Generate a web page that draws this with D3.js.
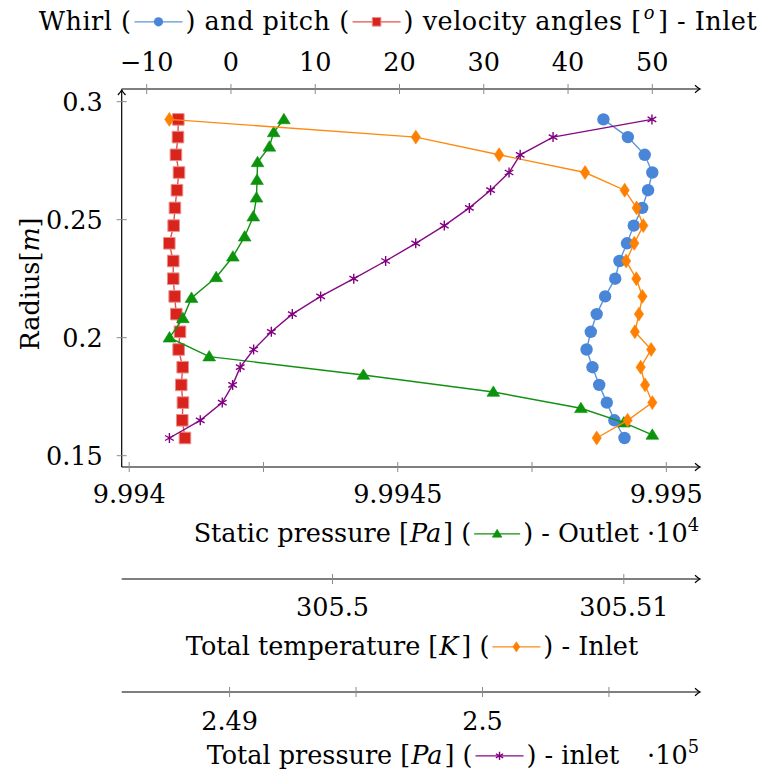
<!DOCTYPE html>
<html>
<head>
<meta charset="utf-8">
<script src="https://cdn.jsdelivr.net/npm/d3@7"></script>
<style>
  body { margin: 0; background: #fff; }
  text { font-family: "DejaVu Serif", serif; fill: #000; white-space: pre; }
</style>
</head>
<body>
<div id="chart"></div>
<script>
const width = 771;
const height = 781;

// inlet stations
const radius = [0.2925, 0.285, 0.2775, 0.27, 0.2625, 0.255, 0.2475, 0.24, 0.2325, 0.225, 0.2175, 0.21, 0.2025, 0.195, 0.1875, 0.18, 0.1725, 0.165, 0.1575];
const whirl = [44.2, 47.1, 49.1, 50.0, 49.5, 48.8, 47.8, 47.0, 46.1, 45.6, 44.4, 43.4, 42.7, 42.2, 42.9, 43.7, 44.6, 45.5, 46.7];
const pitch = [-6.25, -6.29, -6.53, -6.17, -6.41, -6.65, -6.8, -7.32, -6.85, -6.85, -6.68, -6.49, -6.05, -6.21, -5.73, -5.9, -5.7, -5.78, -5.46];
const totalTemp = [305.4944, 305.50286, 305.50572, 305.50867, 305.51003, 305.51044, 305.51067, 305.51036, 305.51008, 305.51043, 305.51064, 305.51052, 305.51038, 305.51094, 305.51058, 305.51073, 305.51098, 305.51013, 305.50907];
const totalPress = [2.5067, 2.50279, 2.50149, 2.50105, 2.50032, 2.49948, 2.49849, 2.49736, 2.49617, 2.49491, 2.4936, 2.49248, 2.49165, 2.49095, 2.49042, 2.49012, 2.48971, 2.48884, 2.48762];

// outlet stations
const outletRadius = [0.2925, 0.287, 0.2809, 0.2743, 0.2668, 0.2593, 0.2513, 0.2428, 0.2343, 0.2256, 0.2168, 0.2082, 0.2, 0.192, 0.1842, 0.177, 0.1701, 0.164, 0.1588];
const staticPress = [9.994288, 9.994269, 9.994261, 9.994239, 9.994238, 9.994237, 9.994231, 9.994215, 9.994193, 9.994162, 9.994116, 9.9941, 9.994075, 9.994149, 9.994436, 9.994678, 9.994841, 9.994921, 9.994974];

// ticks
const radiusTicks = [0.15, 0.2, 0.25, 0.3];
const radiusLabels = ["0.15", "0.2", "0.25", "0.3"];
const angleTicks = [-10, 0, 10, 20, 30, 40, 50];
const angleLabels = ["\u221210", "0", "10", "20", "30", "40", "50"];
const staticTicks = [9.994, 9.99425, 9.9945, 9.99475, 9.995];
const staticLabels = ["9.994", "", "9.9945", "", "9.995"];
const tempTicks = [305.5, 305.51];
const tempLabels = ["305.5", "305.51"];
const pressTicks = [2.49, 2.495, 2.5, 2.505];
const pressLabels = ["2.49", "", "2.5", ""];

const axLeft = 121.7, axRight = 700;
const topY = 89, staticY = 467, tempY = 579, pressY = 692;
const fs = 25.5;

const svg = d3.select("#chart").append("svg")
    .attr("width", width)
    .attr("height", height)
    .attr("viewBox", [0, 0, width, height]);

svg.append("rect").attr("width", width).attr("height", height).attr("fill", "#fff");

svg.append("defs").append("marker")
    .attr("id", "arrow")
    .attr("viewBox", "-6 -5 8 10")
    .attr("refX", 0).attr("refY", 0)
    .attr("markerWidth", 8).attr("markerHeight", 10)
    .attr("markerUnits", "userSpaceOnUse")
    .attr("orient", "auto")
  .append("path")
    .attr("d", "M-5,-3.8 Q-1.5,-0.6 0,0 Q-1.5,0.6 -5,3.8")
    .attr("fill", "none")
    .attr("stroke", "#000")
    .attr("stroke-width", 1.2);

// scales
const y = d3.scaleLinear().domain([0.15, 0.3]).range([455.7, 101.7]);
const xAngle = d3.scaleLinear().domain([-10, 50]).range([146.7, 652.3]);
const xStatic = d3.scaleLinear().domain([9.994, 9.995]).range([129.2, 666.3]);
const xTemp = d3.scaleLinear().domain([305.5, 305.51]).range([332.5, 623.8]);
const xPress = d3.scaleLinear().domain([2.49, 2.5]).range([229.6, 482.5]);

const colors = {
    whirl: { line: "#5b95de", mark: "#4a86d8" },
    pitch: { line: "#e0524c", mark: "#d9231d" },
    stat: { line: "#119111", mark: "#0b930b" },
    temp: { line: "#ff8a12", mark: "#ff8000" },
    press: { line: "#850a85", mark: "#800080" }
};

function markerPath(type, s) {
    if (type === "square") return `M${-s},${-s}H${s}V${s}H${-s}Z`;
    if (type === "triangle") return `M0,${-s * 1.05}L${s * 1.1},${s * 0.75}L${-s * 1.1},${s * 0.75}Z`;
    if (type === "diamond") return `M0,${-s * 1.2}L${s * 0.8},0L0,${s * 1.2}L${-s * 0.8},0Z`;
    if (type === "star") {
        const t = s / 2, u = t * Math.sqrt(3);
        return `M0,${s}L0,${-s}M${-u},${-t}L${u},${t}M${-u},${t}L${u},${-t}`;
    }
    return null;
}

function drawMarker(g, type, cx, cy, s, c) {
    if (type === "circle") {
        g.append("circle").attr("cx", cx).attr("cy", cy).attr("r", s).attr("fill", c.mark);
    } else if (type === "star") {
        g.append("path").attr("transform", `translate(${cx},${cy})`)
            .attr("d", markerPath(type, s)).attr("fill", "none")
            .attr("stroke", c.mark).attr("stroke-width", 1.4);
    } else {
        g.append("path").attr("transform", `translate(${cx},${cy})`)
            .attr("d", markerPath(type, s)).attr("fill", c.mark)
            .attr("stroke", type === "square" ? "#ea8f8b" : c.mark)
            .attr("stroke-width", type === "square" ? 1 : 0.6);
    }
}

function drawSeries(xs, ys, xScale, type, s, c) {
    const g = svg.append("g");
    const pts = xs.map((v, i) => [xScale(v), y(ys[i])]);
    g.append("path")
        .attr("d", d3.line()(pts))
        .attr("fill", "none")
        .attr("stroke", c.line)
        .attr("stroke-width", 1.4);
    pts.forEach(p => drawMarker(g, type, p[0], p[1], s, c));
}

// text with legend samples, italics and superscripts
function richText(x, yy, parts, size, align, L = 50, ls = 0) {
    const g = svg.append("g");
    let cur = 0;
    parts.forEach(p => {
        if (p.mark) {
            const my = -size * 0.32;
            g.append("line").attr("x1", cur + 3).attr("x2", cur + L - 3)
                .attr("y1", my).attr("y2", my)
                .attr("stroke", colors[p.c].line).attr("stroke-width", 1.4);
            drawMarker(g, p.mark, cur + L / 2, my, p.s, colors[p.c]);
            cur += L;
            return;
        }
        const t = g.append("text")
            .attr("x", cur)
            .attr("y", p.sup ? -size * 0.42 : 0)
            .style("font-size", (p.sup ? size * 0.7 : size) + "px")
            .style("font-style", p.it ? "italic" : null)
            .style("letter-spacing", ls ? ls + "px" : null)
            .text(p.t);
        cur += t.node().getComputedTextLength() + (p.sp || 0);
    });
    const shift = align === "end" ? x - cur : (align === "start" ? x : x - cur / 2);
    g.attr("transform", `translate(${shift},${yy})`);
}

function hAxis(scale, ticks, labels, yPos, labelDy) {
    const g = svg.append("g");
    g.append("line")
        .attr("x1", axLeft).attr("x2", axRight)
        .attr("y1", yPos).attr("y2", yPos)
        .attr("stroke", "#000").attr("stroke-width", 1.2)
        .attr("marker-end", "url(#arrow)");
    ticks.forEach((t, i) => {
        g.append("line")
            .attr("x1", scale(t)).attr("x2", scale(t))
            .attr("y1", yPos - 5).attr("y2", yPos + 5)
            .attr("stroke", "#8a8a8a").attr("stroke-width", 1);
        if (labels[i]) {
            g.append("text")
                .attr("x", scale(t)).attr("y", yPos + labelDy)
                .attr("text-anchor", "middle")
                .style("font-size", fs + "px")
                .text(labels[i]);
        }
    });
}

// plots
drawSeries(whirl, radius, xAngle, "circle", 6.2, colors.whirl);
drawSeries(pitch, radius, xAngle, "square", 5.8, colors.pitch);
drawSeries(staticPress, outletRadius, xStatic, "triangle", 5.8, colors.stat);
drawSeries(totalTemp, radius, xTemp, "diamond", 5.8, colors.temp);
drawSeries(totalPress, radius, xPress, "star", 5, colors.press);

// left (radius) axis
const yAxis = svg.append("g");
yAxis.append("line")
    .attr("x1", axLeft).attr("x2", axLeft)
    .attr("y1", staticY).attr("y2", topY + 1)
    .attr("stroke", "#000").attr("stroke-width", 1.2)
    .attr("marker-end", "url(#arrow)");
radiusTicks.forEach((t, i) => {
    yAxis.append("line")
        .attr("x1", axLeft - 5).attr("x2", axLeft + 5)
        .attr("y1", y(t)).attr("y2", y(t))
        .attr("stroke", "#8a8a8a").attr("stroke-width", 1);
    yAxis.append("text")
        .attr("x", axLeft - 19).attr("y", y(t) + 9.5)
        .attr("text-anchor", "end")
        .style("font-size", fs + "px")
        .text(radiusLabels[i]);
});

// horizontal axes
hAxis(xAngle, angleTicks, angleLabels, topY, -18);
hAxis(xStatic, staticTicks, staticLabels, staticY, 36);
hAxis(xTemp, tempTicks, tempLabels, tempY, 37);
hAxis(xPress, pressTicks, pressLabels, pressY, 38);

// axis titles
svg.append("g").attr("transform", "translate(39,284) rotate(-90)")
  .call(g => {
      const t = g.append("text").attr("text-anchor", "middle").style("font-size", fs + "px");
      t.append("tspan").text("Radius[");
      t.append("tspan").style("font-style", "italic").text("m");
      t.append("tspan").text("]");
  });

richText(398, 30, [
    { t: "Whirl (" }, { mark: "circle", c: "whirl", s: 4.6 },
    { t: ") and pitch (" }, { mark: "square", c: "pitch", s: 4.3 },
    { t: ") velocity angles [", sp: 2 }, { t: "o", it: true, sup: true, sp: 3 }, { t: "] - Inlet" }
], fs, "middle", 54, 0.5);

richText(699, 542, [
    { t: "Static pressure [", sp: 1 }, { t: "Pa", it: true, sp: 2 }, { t: "] (" },
    { mark: "triangle", c: "stat", s: 4.4 }, { t: ") - Outlet \u00b710" }, { t: "4", sup: true }
], fs, "end", 52);

richText(412, 655, [
    { t: "Total temperature [", sp: 1 }, { t: "K", it: true, sp: 3 }, { t: "] (" },
    { mark: "diamond", c: "temp", s: 4.3 }, { t: ") - Inlet" }
], fs, "middle", 54);

richText(413, 764, [
    { t: "Total pressure [", sp: 1 }, { t: "Pa", it: true, sp: 2 }, { t: "] (" },
    { mark: "star", c: "press", s: 4.2 }, { t: ") - inlet" }
], fs, "middle", 54);

richText(699, 764, [{ t: "\u00b710" }, { t: "5", sup: true }], fs, "end");
</script>
</body>
</html>
